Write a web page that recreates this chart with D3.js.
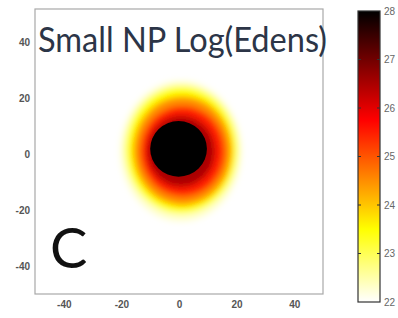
<!DOCTYPE html>
<html>
<head>
<meta charset="utf-8">
<script src="https://cdn.jsdelivr.net/npm/d3@7"></script>
<style>
  body { margin: 0; background: #fff; }
  svg { display: block; }
  .tick text { font-family: "Liberation Sans", Arial, sans-serif; }
</style>
</head>
<body>
<div id="chart"></div>
<script>
// axis ticks
const xTicks = [-40, -20, 0, 20, 40];
const yTicks = [-40, -20, 0, 20, 40];
const cbarTicks = [22, 23, 24, 25, 26, 27, 28];

// contour levels of log(Edens) (outer -> inner)
const levels = [22.3, 23.5, 24.5, 25.5, 26.5, 28];
const leftExt = [-20.3, -18.6, -15.9, -13.4, -11.0, -10.0];
const rightExt = [21.7, 20.3, 18.3, 15.9, 12.4, 9.7];
const topExt = [26.2, 24.4, 20.8, 17.3, 13.7, 11.9];
const bottomExt = [-24.0, -21.2, -18.3, -15.1, -11.6, -8.0];

const title = "Small NP Log(Edens)";
const panel = "C";

const width = 398, height = 318;
const margin = { top: 9, right: 75, bottom: 24, left: 35 };

const svg = d3.select("#chart").append("svg")
  .attr("width", width)
  .attr("height", height);

const x = d3.scaleLinear().domain([-50, 50]).range([margin.left, width - margin.right]);
const y = d3.scaleLinear().domain([-50, 52]).range([height - margin.bottom, margin.top]);

// reversed "hot" colormap, 22 -> white, 28 -> black
function hotR(v) {
  const u = 1 - (v - 22) / 6;
  const c = t => Math.round(255 * Math.max(0, Math.min(1, t)));
  return `rgb(${c(u / 0.375)},${c((u - 0.375) / 0.375)},${c((u - 0.75) / 0.25)})`;
}

const defs = svg.append("defs");
defs.append("filter").attr("id", "soft")
  .attr("x", "-50%").attr("y", "-50%").attr("width", "200%").attr("height", "200%")
  .append("feGaussianBlur").attr("stdDeviation", 3.2);
defs.append("filter").attr("id", "edge")
  .append("feGaussianBlur").attr("stdDeviation", 0.6);

const contours = levels.map((v, i) => ({
  v, l: leftExt[i], r: rightExt[i], t: topExt[i], b: bottomExt[i]
}));

// closed shape of four quarter-ellipses around the level's centre
function blobPath(d) {
  const cx = (d.l + d.r) / 2, cy = (d.t + d.b) / 2;
  const px = x(cx), py = y(cy);
  const rr = x(d.r) - px, rl = px - x(d.l);
  const rt = py - y(d.t), rb = y(d.b) - py;
  return `M${px + rr},${py}` +
    `A${rr},${rt} 0 0 0 ${px},${py - rt}` +
    `A${rl},${rt} 0 0 0 ${px - rl},${py}` +
    `A${rl},${rb} 0 0 0 ${px},${py + rb}` +
    `A${rr},${rb} 0 0 0 ${px + rr},${py}Z`;
}

svg.append("g")
  .attr("filter", "url(#soft)")
  .selectAll("path")
  .data(contours.slice(0, -1))
  .join("path")
  .attr("d", blobPath)
  .attr("fill", d => hotR(d.v));

svg.append("g")
  .attr("filter", "url(#edge)")
  .selectAll("path")
  .data(contours.slice(-1))
  .join("path")
  .attr("d", blobPath)
  .attr("fill", d => hotR(d.v));

// plot frame
svg.append("rect")
  .attr("x", x(-50)).attr("y", y(52))
  .attr("width", x(50) - x(-50))
  .attr("height", y(-50) - y(52))
  .attr("fill", "none")
  .attr("stroke", "#a8a8a8")
  .attr("stroke-width", 1.2);

const plain = d => String(d);
const xAxis = svg.append("g")
  .attr("transform", `translate(0,${y(-50)})`)
  .call(d3.axisBottom(x).tickValues(xTicks).tickFormat(plain).tickSize(0).tickPadding(7));
const yAxis = svg.append("g")
  .attr("transform", `translate(${x(-50)},0)`)
  .call(d3.axisLeft(y).tickValues(yTicks).tickFormat(plain).tickSize(0).tickPadding(5));
[xAxis, yAxis].forEach(g => {
  g.select(".domain").remove();
  g.selectAll("text").attr("font-size", 10).attr("font-weight", "bold").attr("fill", "#555");
});

// colorbar
const cb = { x: 358, w: 22 };
const cy = d3.scaleLinear().domain([22, 28]).range([302, 11]);
const grad = defs.append("linearGradient").attr("id", "cbar")
  .attr("x1", 0).attr("x2", 0).attr("y1", 1).attr("y2", 0);
grad.selectAll("stop")
  .data(d3.range(22, 28.01, 0.25))
  .join("stop")
  .attr("offset", d => (d - 22) / 6)
  .attr("stop-color", d => hotR(d));

svg.append("rect")
  .attr("x", cb.x).attr("y", cy(28))
  .attr("width", cb.w).attr("height", cy(22) - cy(28))
  .attr("fill", "url(#cbar)")
  .attr("stroke", "#333")
  .attr("stroke-width", 1.2);

const cbAxis = svg.append("g")
  .attr("transform", `translate(${cb.x + cb.w},0)`)
  .call(d3.axisRight(cy).tickValues(cbarTicks).tickFormat(plain).tickSize(0).tickPadding(4));
cbAxis.select(".domain").remove();
cbAxis.selectAll("text").attr("font-size", 10).attr("fill", "#666");

const inner = cbarTicks.slice(1, -1);
svg.append("g").selectAll("line")
  .data(inner.flatMap(v => [{ v, x0: cb.x, x1: cb.x + 3 }, { v, x0: cb.x + cb.w - 3, x1: cb.x + cb.w }]))
  .join("line")
  .attr("x1", d => d.x0).attr("x2", d => d.x1)
  .attr("y1", d => cy(d.v)).attr("y2", d => cy(d.v))
  .attr("stroke", "#333")
  .attr("stroke-width", 1);

// overlaid labels
svg.append("text")
  .attr("x", 38).attr("y", 52)
  .attr("font-family", "Lato, 'Open Sans', sans-serif")
  .attr("font-size", 34)
  .attr("fill", "#2c3547")
  .attr("textLength", 289)
  .attr("lengthAdjust", "spacingAndGlyphs")
  .text(title);

svg.append("text")
  .attr("x", 50).attr("y", 268)
  .attr("font-family", "Lato, 'Open Sans', sans-serif")
  .attr("font-size", 56)
  .attr("fill", "#111")
  .text(panel);
</script>
</body>
</html>
